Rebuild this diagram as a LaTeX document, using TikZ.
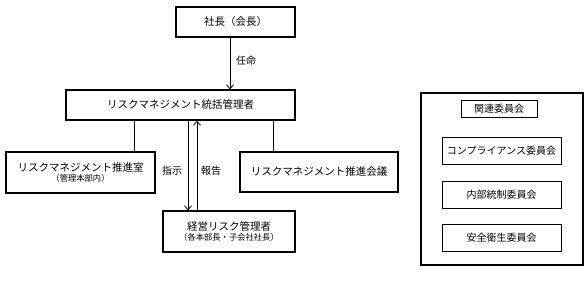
\documentclass[tikz,border=0pt]{standalone}
\usepackage{fontspec}
\setmainfont{Noto Sans CJK JP}
\usetikzlibrary{arrows.meta}
\newcommand\subline[1]{{\fontsize{8.3}{10}\selectfont #1}}
\begin{document}
\begin{tikzpicture}[x=1pt,y=-1pt,font=\fontsize{10.5}{12.5}\selectfont,
    box/.style={draw=black,line width=1.3pt,align=center,inner sep=1pt},
    cbox/.style={draw=black,line width=.7pt,align=center,minimum width=119pt,minimum height=27pt,font=\fontsize{10}{12}\selectfont},
    label/.style={font=\fontsize{10}{12}\selectfont},
    link/.style={line width=.8pt},
    arrow/.style={line width=.8pt,-{Straight Barb[length=4pt,width=7pt]}}]
  \useasboundingbox (0,0) rectangle (588,281);
  % organisation
  \node[box,minimum width=119pt,minimum height=30pt] (shacho) at (235.5,22) {社長（会長）};
  \node[box,minimum width=229pt,minimum height=30pt] (togatsu) at (180.5,105) {リスクマネジメント統括管理者};
  \node[box,minimum width=149pt,minimum height=41pt] (suishin) at (80.5,172.5)
    {リスクマネジメント推進室\\[-2pt]\subline{（管理本部内）}};
  \node[box,minimum width=158pt,minimum height=40pt] (kaigi) at (319,172) {リスクマネジメント推進会議};
  \node[box,minimum width=132pt,minimum height=41pt] (keiei) at (229,231.5)
    {経営リスク管理者\\[-2pt]\subline{（各本部長・子会社社長）}};
  \draw[arrow] ([xshift=-5.5pt]shacho.south) -- ([xshift=-5.5pt]shacho.south |- togatsu.north);
  \node[label] (ninmei) at (246,61) {任命};
  \draw[link] (togatsu.south -| 134,0) -- (suishin.north -| 134,0);
  \draw[link] (togatsu.south -| 273,0) -- (kaigi.north -| 273,0);
  \draw[arrow] (togatsu.south -| 188,0) -- (keiei.north -| 188,0);
  \draw[arrow] (keiei.north -| 197,0) -- (togatsu.south -| 197,0);
  \node[label] (shiji) at (172,171) {指示};
  \node[label] (hokoku) at (211,171) {報告};
  % committees
  \node[box,minimum width=162pt,minimum height=172pt] (kanren) at (502,179) {};
  \node[box,line width=1pt,minimum width=76pt,minimum height=17pt,font=\fontsize{10}{12}\selectfont] (title) at (499,108.5) {関連委員会};
  \node[cbox] (comp) at (501.5,150.5) {コンプライアンス委員会};
  \node[cbox] (naibu) at (501.5,194.5) {内部統制委員会};
  \node[cbox] (anzen) at (501.5,237.5) {安全衛生委員会};
\end{tikzpicture}
\end{document}
